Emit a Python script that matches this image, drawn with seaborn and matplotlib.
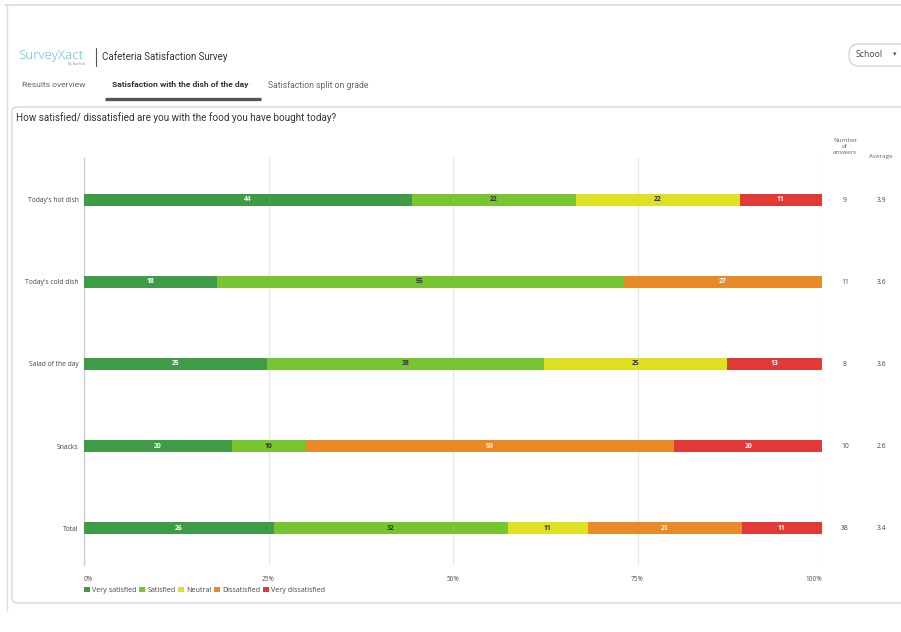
import numpy as np
import pandas as pd
import matplotlib
matplotlib.use("Agg")
import matplotlib.pyplot as plt
from matplotlib.patches import FancyBboxPatch, Patch
import seaborn as sns

# ---------------- data ----------------
categories = ["Today's hot dish", "Today's cold dish", "Salad of the day", "Snacks", "Total"]
levels = ["Very satisfied", "Satisfied", "Neutral", "Dissatisfied", "Very dissatisfied"]
very_satisfied = [44, 18, 25, 20, 26]
satisfied = [22, 55, 38, 10, 32]
neutral = [22, 0, 25, 0, 11]
dissatisfied = [0, 27, 0, 50, 21]
very_dissatisfied = [11, 0, 13, 20, 11]
n_answers = [9, 11, 8, 10, 38]
average = [3.9, 3.6, 3.6, 2.6, 3.4]
x_ticks = [0, 25, 50, 75, 100]
x_tick_labels = ["0%", "25%", "50%", "75%", "100%"]

colors = ["#409b47", "#78c431", "#dfe024", "#e88a27", "#e23937"]
label_colors = ["white", "#333333", "#333333", "white", "white"]

sns.set_style("white")
plt.rcParams["font.family"] = ["Open Sans", "DejaVu Sans"]

W, H = 901, 632
fig = plt.figure(figsize=(W / 100, H / 100), dpi=100)
fig.patch.set_facecolor("white")

# background axes in pixel coordinates for page decoration
bg = fig.add_axes([0, 0, 1, 1], zorder=0)
bg.set_xlim(0, W)
bg.set_ylim(H, 0)
bg.axis("off")

line_c = "#dcdcdc"
bg.plot([5, W], [5, 5], color=line_c, lw=1.2)
bg.plot([7, 7], [5, 610], color=line_c, lw=1.0)
panel = FancyBboxPatch((12, 107), W - 12 + 10, 603 - 107,
                       boxstyle="round,pad=0,rounding_size=5",
                       fc="white", ec="#d8d8d8", lw=1.0)
bg.add_patch(panel)

# header
bg.text(18, 56, "SurveyXact", color="#5ab7cc", fontsize=9.6, family="Open Sans",
        va="center", ha="left", fontweight="light")
bg.text(85, 64.5, "By Ramboll", color="#8a8a8a", fontsize=2.3, va="center", ha="right")
bg.plot([95.5, 95.5], [48, 66], color="#555555", lw=0.8)
bg.text(102, 57, "Cafeteria Satisfaction Survey", color="#333333", fontsize=7.0,
        family="Roboto", va="center", ha="left")

bg.text(22, 85, "Results overview", color="#666666", fontsize=6.1, family="Roboto",
        va="center", ha="left")
bg.text(112, 85, "Satisfaction with the dish of the day", color="#333333", fontsize=6.1,
        family="Roboto", fontweight="bold", va="center", ha="left")
bg.text(268, 85, "Satisfaction split on grade", color="#666666", fontsize=6.2,
        family="Roboto", va="center", ha="left")
bg.plot([105, 261], [98.5, 98.5], color="#555555", lw=2.4, solid_capstyle="butt")

dd = FancyBboxPatch((849, 44), 70, 22, boxstyle="round,pad=0,rounding_size=10",
                    fc="white", ec="#cccccc", lw=0.8)
bg.add_patch(dd)
bg.text(856, 54.5, "School", color="#444444", fontsize=6.3, va="center", ha="left")
bg.text(893, 55, "▾", color="#555555", fontsize=5, va="center", ha="left")

bg.text(16, 118, "How satisfied/ dissatisfied are you with the food you have bought today?",
        color="#333333", fontsize=7.1, family="Roboto", va="center", ha="left")

# column headers
bg.text(845, 147, "Number\nof\nanswers", color="#666666", fontsize=4.5, va="center",
        ha="center", linespacing=1.25)
bg.text(881, 156.5, "Average", color="#666666", fontsize=4.5, va="center", ha="center")

# ---------------- chart ----------------
x0, x1, y0, y1 = 84, 822, 158, 565
ax = fig.add_axes([x0 / W, 1 - y1 / H, (x1 - x0) / W, (y1 - y0) / H], zorder=2)
ax.patch.set_alpha(0)

df = pd.DataFrame({
    "category": categories,
    levels[0]: very_satisfied,
    levels[1]: satisfied,
    levels[2]: neutral,
    levels[3]: dissatisfied,
    levels[4]: very_dissatisfied,
})
vals = df[levels].to_numpy(dtype=float)
pct = vals / vals.sum(axis=1, keepdims=True) * 100
cum = np.cumsum(pct, axis=1)

for i in range(len(levels) - 1, -1, -1):
    sns.barplot(x=cum[:, i], y=df["category"], orient="h", color=colors[i],
                saturation=1, width=0.146, linewidth=0, ax=ax, zorder=3)

for r in range(len(categories)):
    for i in range(len(levels)):
        if vals[r, i] > 0:
            ax.text(cum[r, i] - pct[r, i] / 2, r, f"{int(vals[r, i])}",
                    ha="center", va="center", fontsize=4.9, fontweight="bold",
                    color=label_colors[i], zorder=5)

ax.set_xlim(0, 100)
ax.set_ylim(4.45, -0.51)
ax.set_xlabel("")
ax.set_ylabel("")
ax.set_xticks(x_ticks)
ax.set_xticklabels(x_tick_labels)
ax.tick_params(axis="x", length=0, pad=8, labelsize=4.7, labelcolor="#555555")
ax.tick_params(axis="y", length=0, pad=4, labelsize=4.9, labelcolor="#444444")
xt = ax.get_xticklabels()
xt[0].set_ha("left")
xt[-1].set_ha("right")
ax.xaxis.grid(True, color="#e6e6e6", lw=0.9)
ax.set_axisbelow(True)
for s in ["top", "right", "bottom"]:
    ax.spines[s].set_visible(False)
ax.spines["left"].set_color("#cfcfcf")
ax.spines["left"].set_linewidth(1.0)

# side columns
for r in range(len(categories)):
    ypx = 200 + r * 82
    bg.text(845, ypx, f"{n_answers[r]}", color="#444444", fontsize=4.9, ha="center", va="center")
    bg.text(881, ypx, f"{average[r]:.1f}", color="#444444", fontsize=4.9, ha="center", va="center")

# legend
handles = [Patch(facecolor=c, edgecolor="none") for c in colors]
ax.legend(handles, levels, loc="upper left", bbox_to_anchor=(0.0, -0.053), ncol=5,
          frameon=False, fontsize=5.1, handlelength=0.85, handleheight=0.85,
          handletextpad=0.3, columnspacing=0.35, borderaxespad=0, borderpad=0,
          labelcolor="#444444")

fig.savefig("out.png", dpi=100, facecolor="white")
